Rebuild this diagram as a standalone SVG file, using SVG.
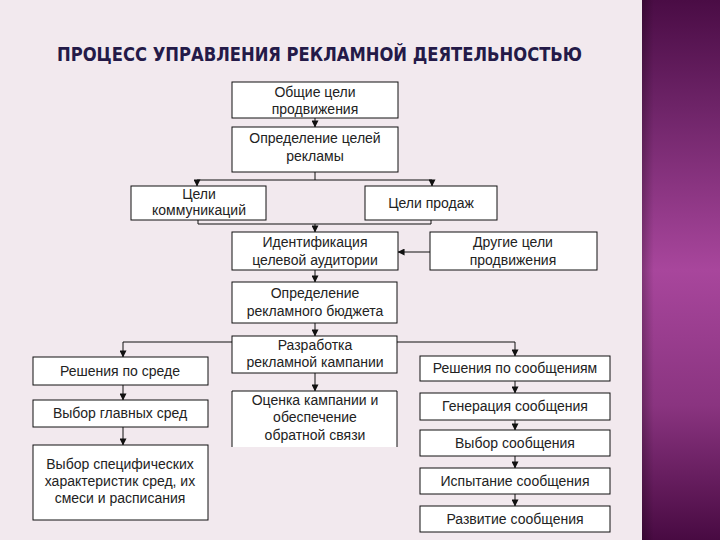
<svg xmlns="http://www.w3.org/2000/svg" width="720" height="540" viewBox="0 0 720 540">
<defs>
<linearGradient id="bar" x1="0" y1="0" x2="0" y2="1">
<stop offset="0" stop-color="#4a0c45"/>
<stop offset="0.2" stop-color="#6e2468"/>
<stop offset="0.5" stop-color="#a8469c"/>
<stop offset="0.75" stop-color="#8a3480"/>
<stop offset="1" stop-color="#480a42"/>
</linearGradient>
<linearGradient id="barEdge" x1="0" y1="0" x2="1" y2="0">
<stop offset="0" stop-color="#000" stop-opacity="0.25"/>
<stop offset="0.15" stop-color="#000" stop-opacity="0"/>
<stop offset="1" stop-color="#000" stop-opacity="0"/>
</linearGradient>
<marker id="arr" viewBox="0 0 8 8" refX="7.5" refY="4" markerWidth="7" markerHeight="7" markerUnits="userSpaceOnUse" orient="auto">
<path d="M0,0 L8,4 L0,8 Z" fill="#111"/>
</marker>
<style>
.box{fill:#fff;stroke:#111;stroke-width:1}
.t{font-family:"Liberation Sans",Arial,sans-serif;font-size:14px;fill:#222;text-anchor:middle}
.c{fill:none;stroke:#111;stroke-width:1}
.a{fill:none;stroke:#111;stroke-width:1;marker-end:url(#arr)}
.title{font-family:"DejaVu Sans Condensed","DejaVu Sans",sans-serif;font-weight:bold;font-size:19px;fill:#241a48}
</style>
</defs>
<rect x="0" y="0" width="720" height="540" fill="#f2e9ee"/>
<rect x="642" y="0" width="78" height="540" fill="url(#bar)"/>
<rect x="642" y="0" width="78" height="540" fill="url(#barEdge)"/>
<text class="title" x="57" y="61" textLength="525" lengthAdjust="spacingAndGlyphs">ПРОЦЕСС УПРАВЛЕНИЯ РЕКЛАМНОЙ ДЕЯТЕЛЬНОСТЬЮ</text>

<g id="connectors">
<path class="a" d="M315 118 V127"/>
<path class="c" d="M315 172 V180 M197 180 H432"/>
<path class="a" d="M197 180 V186"/>
<path class="a" d="M432 180 V186"/>
<path class="c" d="M198 220 V224 H431 V220"/>
<path class="a" d="M315 224 V232"/>
<path class="a" d="M430 252 H398"/>
<path class="a" d="M315 270 V282"/>
<path class="a" d="M315 323 V336"/>
<path class="a" d="M232 342 H123 V357"/>
<path class="a" d="M397 342 H515 V356"/>
<path class="a" d="M315 373 V391"/>
<path class="a" d="M123 385 V400"/>
<path class="a" d="M123 427 V445"/>
<path class="a" d="M515 381 V393"/>
<path class="a" d="M515 420 V430"/>
<path class="a" d="M515 456 V468"/>
<path class="a" d="M515 494 V506"/>
</g>

<g id="n1"><rect class="box" x="232" y="82" width="166" height="36"/><text class="t" x="315" y="97">Общие цели</text><text class="t" x="315" y="114">продвижения</text></g>
<g id="n2"><rect class="box" x="232" y="127" width="166" height="45"/><text class="t" x="315" y="143">Определение целей</text><text class="t" x="315" y="161">рекламы</text></g>
<g id="n3"><rect class="box" x="131" y="186" width="135" height="34"/><text class="t" x="199" y="199">Цели</text><text class="t" x="199" y="215">коммуникаций</text></g>
<g id="n4"><rect class="box" x="365" y="186" width="132" height="34"/><text class="t" x="431" y="208">Цели продаж</text></g>
<g id="n5"><rect class="box" x="232" y="232" width="166" height="38"/><text class="t" x="315" y="247">Идентификация</text><text class="t" x="315" y="265">целевой аудитории</text></g>
<g id="n6"><rect class="box" x="430" y="232" width="167" height="38"/><text class="t" x="513" y="247">Другие цели</text><text class="t" x="513" y="265">продвижения</text></g>
<g id="n7"><rect class="box" x="232" y="282" width="165" height="41"/><text class="t" x="315" y="298">Определение</text><text class="t" x="315" y="316">рекламного бюджета</text></g>
<g id="n8"><rect class="box" x="232" y="336" width="165" height="37"/><text class="t" x="315" y="350">Разработка</text><text class="t" x="315" y="367">рекламной кампании</text></g>
<g id="n9"><path d="M232 447 V391 H397 V447" fill="#fff" stroke="#111"/><text class="t" x="315" y="405">Оценка кампании и</text><text class="t" x="315" y="422">обеспечение</text><text class="t" x="315" y="440">обратной связи</text></g>
<g id="n10"><rect class="box" x="33" y="357" width="175" height="28"/><text class="t" x="120" y="376">Решения по среде</text></g>
<g id="n11"><rect class="box" x="33" y="400" width="175" height="27"/><text class="t" x="120" y="418">Выбор главных сред</text></g>
<g id="n12"><rect class="box" x="33" y="445" width="175" height="75"/><text class="t" x="120" y="469">Выбор специфических</text><text class="t" x="120" y="486">характеристик сред, их</text><text class="t" x="120" y="503">смеси и расписания</text></g>
<g id="n13"><rect class="box" x="420" y="356" width="190" height="25"/><text class="t" x="515" y="373">Решения по сообщениям</text></g>
<g id="n14"><rect class="box" x="420" y="393" width="190" height="27"/><text class="t" x="515" y="411">Генерация сообщения</text></g>
<g id="n15"><rect class="box" x="420" y="430" width="190" height="26"/><text class="t" x="515" y="448">Выбор сообщения</text></g>
<g id="n16"><rect class="box" x="420" y="468" width="190" height="26"/><text class="t" x="515" y="486">Испытание сообщения</text></g>
<g id="n17"><rect class="box" x="420" y="506" width="190" height="26"/><text class="t" x="515" y="524">Развитие сообщения</text></g>
</svg>
